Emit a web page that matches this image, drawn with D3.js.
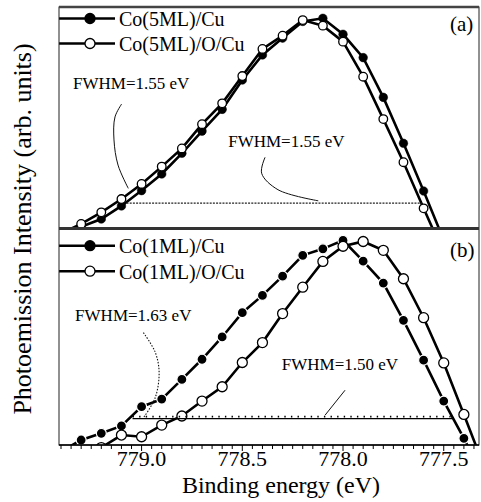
<!DOCTYPE html>
<html>
<head>
<meta charset="utf-8">
<script src="https://cdn.jsdelivr.net/npm/d3@7/dist/d3.min.js"></script>
<style>
  body { margin: 0; background: #fff; }
  svg { display: block; font-family: "Liberation Serif", "Times New Roman", serif; }
</style>
</head>
<body>
<div id="chart"></div>
<script>
// panel (a): Co(5ML)
const energiesA = [779.4, 779.3, 779.2, 779.1, 779.0, 778.9, 778.8, 778.7, 778.6, 778.5,
                   778.4, 778.3, 778.2, 778.1, 778.0, 777.9, 777.8, 777.7, 777.6, 777.5];
const co5Cu  = [-3, 1.0, 4.5, 10.4, 17.3, 24.8, 34.1, 44.1, 53.9, 67.1,
                78.4, 86.0, 93.5, 94.9, 87.7, 77.2, 59.3, 38.6, 17.1, -5];
const co5OCu = [-2, 2.3, 7.5, 13.5, 20.3, 28.1, 36.3, 47.2, 56.6, 68.9,
                81.1, 87.1, 94.1, 91.6, 84.4, 68.6, 49.5, 30.1, 9.3, -11];

// panel (b): Co(1ML)
const energiesB = [779.4, 779.3, 779.2, 779.1, 779.0, 778.9, 778.8, 778.7, 778.6, 778.5, 778.4,
                   778.3, 778.2, 778.1, 778.0, 777.9, 777.8, 777.7, 777.6, 777.5, 777.4, 777.3];
const co1Cu  = [-3, 2.3, 5.4, 8.8, 17.7, 21.2, 30.3, 39.6, 49.9, 61.1, 69.1,
                78.0, 87.6, 90.6, 94.5, 84.9, 74.8, 57.6, 39.2, 20.3, 3.1, -16];
const co1OCu = [-25, -10, -1.2, 4.6, 3.8, 9.2, 13.4, 20.3, 26.9, 38.1, 47.3,
                60.7, 72.9, 84.8, 91.8, 94.0, 89.9, 76.8, 58.8, 37.9, 14.1, -10];

const seriesNamesA = ["Co(5ML)/Cu", "Co(5ML)/O/Cu"];
const seriesNamesB = ["Co(1ML)/Cu", "Co(1ML)/O/Cu"];
const panelLabels = ["(a)", "(b)"];

const majorTicks = [779.0, 778.5, 778.0, 777.5];
const xLabel = "Binding energy (eV)";
const yLabel = "Photoemission Intensity (arb. units)";

// FWHM annotations, in [energy, intensity] units
const fwhmTextA = [["FWHM=1.55 eV", 779.34, 63.1], ["FWHM=1.55 eV", 778.57, 37.1]];
const fwhmLineA = [[779.075, 11.7], [777.61, 11.7]];
const curveA1 = [[779.099, 56.3], [779.132, 50.5], [779.137, 40.1], [779.117, 28.8], [779.066, 18.3]];
const curveA2 = [[778.387, 32.3], [778.404, 25.1], [778.323, 17.7], [778.123, 12.7]];

const fwhmTextB = [["FWHM=1.63 eV", 779.33, 57.1], ["FWHM=1.50 eV", 778.304, 34.6]];
const fwhmLineB = [[779.045, 12.2], [777.457, 12.2]];
const curveB1 = [[778.991, 51.9], [778.933, 43.0], [778.913, 33.6], [778.933, 21.7], [778.993, 12.3]];
const lineB2 = [[778.089, 13.8], [777.99, 25.3]];

const width = 481, height = 502;
const left = 59, right = 479, topA = 7, mid = 228.5, bottom = 445;

const svg = d3.select("#chart").append("svg")
  .attr("width", width)
  .attr("height", height);

const x = d3.scaleLinear().domain([779.41, 777.325]).range([left, right]);
const yA = d3.scaleLinear().domain([0, 100]).range([229, topA]);
const yB = d3.scaleLinear().domain([0, 100]).range([bottom, mid]);

const defs = svg.append("defs");
defs.append("clipPath").attr("id", "clipA").append("rect")
  .attr("x", left).attr("y", topA).attr("width", right - left).attr("height", mid - topA);
defs.append("clipPath").attr("id", "clipB").append("rect")
  .attr("x", left).attr("y", mid).attr("width", right - left).attr("height", bottom - mid);

function drawPanel(clip, y, energies, filled, open, r, halo) {
  const g = svg.append("g").attr("clip-path", `url(#${clip})`);
  const line = d3.line().x(d => x(d[0])).y(d => y(d[1]));
  [filled, open].forEach((vals, i) => {
    const pts = energies.map((e, j) => [e, vals[j]]);
    g.append("path")
      .datum(pts)
      .attr("fill", "none")
      .attr("stroke", "#000")
      .attr("stroke-width", 2.6)
      .attr("d", line);
    g.selectAll(null)
      .data(pts)
      .enter().append("circle")
        .attr("cx", d => x(d[0]))
        .attr("cy", d => y(d[1]))
        .attr("r", r)
        .attr("fill", i === 0 ? "#000" : "#fff")
        .attr("stroke", i === 0 ? (halo ? "#fff" : "#000") : "#000")
        .attr("stroke-width", i === 0 ? (halo ? 1.2 : 0.5) : 1.3);
  });
  return g;
}

const gA = drawPanel("clipA", yA, energiesA, co5Cu, co5OCu, 4.3, false);
const gB = drawPanel("clipB", yB, energiesB, co1Cu, co1OCu, 5, true);

// annotations
const annLineA = d3.line().x(d => x(d[0])).y(d => yA(d[1]));
const annLineB = d3.line().x(d => x(d[0])).y(d => yB(d[1]));

gA.append("path").attr("d", annLineA(fwhmLineA))
  .attr("stroke", "#222").attr("stroke-width", 1.3).attr("stroke-dasharray", "2,1.2").attr("fill", "none");
gA.append("path").attr("d", annLineA.curve(d3.curveCatmullRom)(curveA1))
  .attr("stroke", "#111").attr("stroke-width", 1).attr("fill", "none");
gA.append("path").attr("d", annLineA.curve(d3.curveCatmullRom)(curveA2))
  .attr("stroke", "#111").attr("stroke-width", 1).attr("fill", "none");

gB.append("path").attr("d", annLineB(fwhmLineB))
  .attr("stroke", "#000").attr("stroke-width", 1.4).attr("fill", "none");
gB.append("path")
  .attr("d", annLineB(fwhmLineB.map(d => [d[0], d[1] + 0.9])))
  .attr("stroke", "#000").attr("stroke-width", 1.6).attr("stroke-dasharray", "1.4,5.2").attr("fill", "none");
gB.append("path").attr("d", annLineB.curve(d3.curveCatmullRom)(curveB1))
  .attr("stroke", "#111").attr("stroke-width", 1.1).attr("stroke-dasharray", "1.5,1.5").attr("fill", "none");
gB.append("path").attr("d", d3.line().x(d => x(d[0])).y(d => yB(d[1]))(lineB2))
  .attr("stroke", "#111").attr("stroke-width", 1).attr("fill", "none");

[[fwhmTextA, yA], [fwhmTextB, yB]].forEach(([texts, y]) => {
  svg.selectAll(null).data(texts).enter().append("text")
    .attr("x", d => x(d[1]))
    .attr("y", d => y(d[2]))
    .attr("font-size", 17)
    .text(d => d[0]);
});

// legends
function legend(names, y0, dy, r) {
  names.forEach((name, i) => {
    const yy = y0 + i * dy;
    svg.append("line")
      .attr("x1", left).attr("x2", 115).attr("y1", yy).attr("y2", yy)
      .attr("stroke", "#000").attr("stroke-width", 2.6);
    svg.append("circle")
      .attr("cx", 90).attr("cy", yy).attr("r", r)
      .attr("fill", i === 0 ? "#000" : "#fff")
      .attr("stroke", "#000").attr("stroke-width", 1.3);
    svg.append("text")
      .attr("x", 119).attr("y", yy + 7.5)
      .attr("font-size", 20)
      .text(name);
  });
}
legend(seriesNamesA, 18.5, 25, 5);
legend(seriesNamesB, 245.7, 25.5, 5);

svg.selectAll(".plabel").data(panelLabels).enter().append("text")
  .attr("class", "plabel")
  .attr("x", 450)
  .attr("y", (d, i) => i === 0 ? 31 : 257)
  .attr("font-size", 21)
  .text(d => d);

// frame
svg.append("rect")
  .attr("x", left).attr("y", topA).attr("width", right - left).attr("height", bottom - topA)
  .attr("fill", "none").attr("stroke", "#222").attr("stroke-width", 1);
svg.append("line").attr("x1", left).attr("x2", right).attr("y1", topA).attr("y2", topA)
  .attr("stroke", "#444").attr("stroke-width", 2.5);
svg.append("line").attr("x1", left).attr("x2", right).attr("y1", mid).attr("y2", mid)
  .attr("stroke", "#333").attr("stroke-width", 2.8);

// x axis
const minorTicks = d3.range(779.4, 777.3, -0.05).map(v => Math.round(v * 100) / 100);
const xAxis = svg.append("g").attr("transform", `translate(0, ${bottom})`);
xAxis.append("line").attr("x1", left).attr("x2", right).attr("stroke", "#000").attr("stroke-width", 1.6);
xAxis.selectAll(".minor").data(minorTicks).enter().append("line")
  .attr("x1", d => x(d)).attr("x2", d => x(d))
  .attr("y1", 0).attr("y2", d => majorTicks.some(m => Math.abs(m - d) < 1e-6) ? 6 : 4)
  .attr("stroke", "#000").attr("stroke-width", 1);
xAxis.selectAll(".lbl").data(majorTicks).enter().append("text")
  .attr("x", d => x(d))
  .attr("y", 21)
  .attr("text-anchor", "middle")
  .attr("font-size", 22)
  .text(d => d.toFixed(1));

svg.append("text")
  .attr("x", 281).attr("y", 493)
  .attr("text-anchor", "middle")
  .attr("font-size", 24)
  .text(xLabel);

svg.append("text")
  .attr("transform", `translate(31, 229) rotate(-90)`)
  .attr("text-anchor", "middle")
  .attr("font-size", 26)
  .text(yLabel);
</script>
</body>
</html>
